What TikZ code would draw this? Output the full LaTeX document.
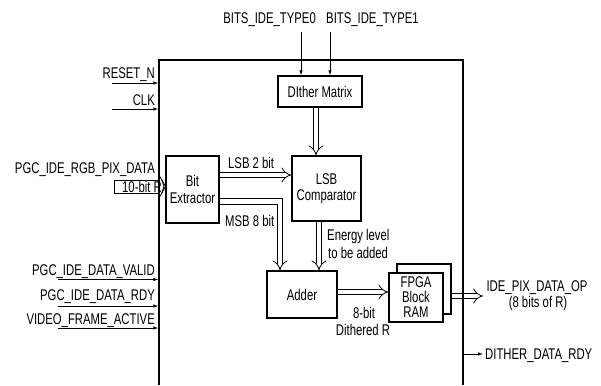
\documentclass[tikz,border=0pt]{standalone}
\usepackage{fontspec}
\setmainfont{Liberation Sans}[FakeStretch=0.73]
\usetikzlibrary{arrows.meta,calc}
\begin{document}
\begin{tikzpicture}[x=1pt,y=-1pt,
  font=\fontsize{15.5}{18}\selectfont,
  blk/.style={draw, line width=1.4pt, fill=white, inner sep=0pt, align=center},
  sig/.style={line width=0.8pt, -{Latex[length=5pt,width=3.5pt]}},
  bus/.style={double, line width=0.8pt, double distance=4.5pt, -{Implies}},
  lbl/.style={inner sep=0pt}]
\useasboundingbox (0,0) rectangle (601,385);

% inner blocks
\node[blk, minimum width=84pt, minimum height=31pt] (dm) at (320,91.5) {DIther Matrix};
\node[blk, minimum width=53pt, minimum height=67pt] (be) at (192.5,189.5) {Bit\\[-1pt]Extractor};
\node[blk, minimum width=69pt, minimum height=65pt] (lsb) at (326.5,188.5) {LSB\\[-2pt]Comparator};
\node[blk, minimum width=70pt, minimum height=47pt] (ad) at (302,294.5) {Adder};
\node[blk, minimum width=54pt, minimum height=50pt] (ramb) at (424,289) {};
\node[blk, minimum width=54pt, minimum height=49pt, font=\fontsize{15.5}{15}\selectfont] (ram) at (416,297.5) {FPGA\\Block\\RAM};

% top inputs
\node[lbl, anchor=base east] (t0) at (316,24) {BITS\_IDE\_TYPE0};
\node[lbl, anchor=base west] (t1) at (326,24) {BITS\_IDE\_TYPE1};
\coordinate (t0a) at (301,32);
\coordinate (t1a) at (330,32);
\draw[sig] (t0a) -- (t0a |- dm.north);
\draw[sig] (t1a) -- (t1a |- dm.north);

% internal buses
\draw[bus] ([xshift=-4pt]dm.south) -- ([xshift=-4pt]dm.south |- lsb.north);
\draw[bus] ([yshift=14.5pt]be.east) -- ([yshift=14.5pt]be.east -| lsb.west);
\draw[bus] ([yshift=-12pt]be.east) -| ([xshift=-22pt]ad.north);
\draw[bus] ([xshift=-7.5pt]lsb.south) -- ([xshift=-7.5pt]lsb.south |- ad.north);
\draw[bus] ([yshift=2.5pt]ad.east) -- ([yshift=2.5pt]ad.east -| ram.west);
\coordinate (oe) at (483,296);
\draw[bus] (ramb.east |- oe) -- (oe);

% internal labels
\node[lbl, anchor=base west] (l2) at (228,168) {LSB 2 bit};
\node[lbl, anchor=base west] (m8) at (225,226) {MSB 8 bit};
\node[lbl, anchor=base west] (en1) at (327,240.5) {Energy level};
\node[lbl, anchor=base west] (en2) at (328,258) {to be added};
\node[lbl, anchor=base] (d1) at (364,318) {8-bit};
\node[lbl, anchor=base] (d2) at (363,335) {Dithered R};

% outputs
\node[lbl, anchor=base] (o1) at (537,291) {IDE\_PIX\_DATA\_OP};
\node[lbl, anchor=base] (o2) at (538,307) {(8 bits of R)};
\coordinate (dr) at (463.7,354);
\coordinate (drE) at (483,354);
\draw[sig] (dr) -- (drE);
\node[lbl, anchor=base west] (drl) at (485,359.5) {DITHER\_DATA\_RDY};

% left inputs
\coordinate (mbL) at (158.3,0);
\node[lbl, anchor=base east] (rsl) at (155,78.5) {RESET\_N};
\node[lbl, anchor=base east] (ckl) at (155,105) {CLK};
\node[lbl, anchor=base east] (pxl) at (155,173) {PGC\_IDE\_RGB\_PIX\_DATA};
\node[lbl, anchor=base east] (vl) at (155,275) {PGC\_IDE\_DATA\_VALID};
\node[lbl, anchor=base east] (rl) at (155,300) {PGC\_IDE\_DATA\_RDY};
\node[lbl, anchor=base east] (fl) at (155,324) {VIDEO\_FRAME\_ACTIVE};
\coordinate (rs) at (112,83);
\coordinate (ck) at (112,109);
\coordinate (va) at (58,279.5);
\coordinate (rd) at (58,306);
\coordinate (fa) at (58,328);
\draw[sig] (rs) -- (rs -| mbL);
\draw[sig] (ck) -- (ck -| mbL);
\draw[sig] (va) -- (va -| mbL);
\draw[sig] (rd) -- (rd -| mbL);
\draw[sig] (fa) -- (fa -| mbL);

% 10-bit R bus
\draw[line width=0.9pt, fill=white] (114,180) rectangle (159,193);
\draw[line width=0.8pt] (159.5,176) -- (165.5,186.5) -- (159.5,197);
\draw[line width=0.8pt] (161.5,179) -- (164,186.5) -- (161.5,194);
\node[lbl, anchor=base west] (tb) at (122,192.5) {10-bit R};

% main box
\draw[line width=1.4pt] (159,385) -- (159,60) -- (463,60) -- (463,385);
\end{tikzpicture}
\end{document}
